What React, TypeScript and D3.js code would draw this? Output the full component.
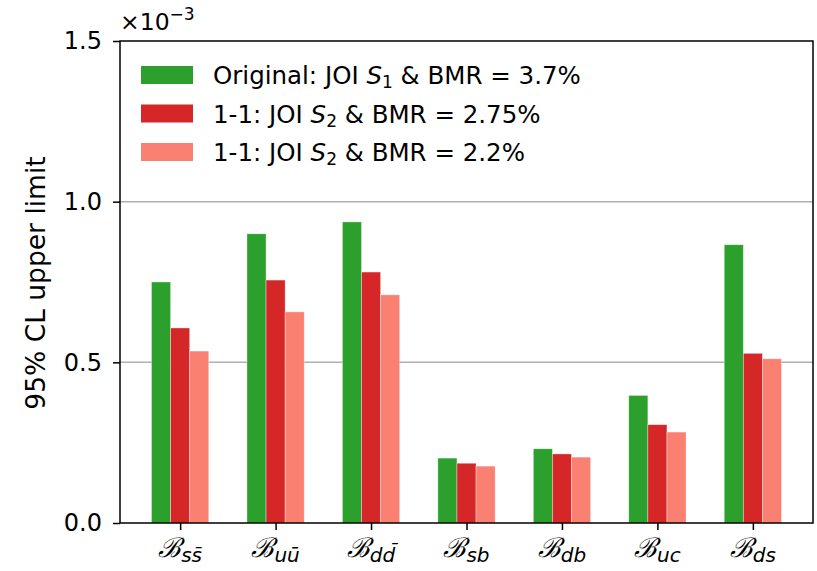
import * as d3 from 'd3'
import { useEffect, useRef } from 'react'

// subscripts of the B labels (bar marks drawn with a combining macron)
const categories = ['ss\u0304', 'uu\u0304', 'dd\u0304', 'sb', 'db', 'uc', 'ds']
const seriesNames = ['original', 'jois2_275', 'jois2_22']
const original = [0.75, 0.9, 0.937, 0.202, 0.231, 0.397, 0.866]
const jois2_275 = [0.607, 0.756, 0.781, 0.186, 0.215, 0.306, 0.528]
const jois2_22 = [0.535, 0.657, 0.71, 0.177, 0.205, 0.283, 0.511]
const yTicks = [0.0, 0.5, 1.0, 1.5]
const colors = ['#2ca02c', '#d62728', '#fa8072']

const App = () => {
    const svgRef = useRef(null)

    useEffect(() => {
        const w = 817
        const h = 571
        const m = { left: 120, right: 813, top: 41, bottom: 523 }
        const svg = d3.select(svgRef.current)
        svg.selectAll('*').remove()

        const x = d3.scaleLinear().domain([-0.63, 6.63]).range([m.left, m.right])
        const y = d3.scaleLinear().domain([0, 1.5]).range([m.bottom, m.top])
        const bw = x(0.2) - x(0)
        const font = 'DejaVu Sans'

        // grid lines
        svg.selectAll('.grid').data([0.5, 1.0]).join('line')
            .attr('x1', m.left).attr('x2', m.right)
            .attr('y1', d => y(d)).attr('y2', d => y(d))
            .attr('stroke', '#b0b0b0').attr('stroke-width', 1.5)

        // bars
        const series = [original, jois2_275, jois2_22]
        series.forEach((vals, si) => {
            svg.append('g').attr('class', seriesNames[si]).selectAll('rect').data(vals).join('rect')
                .attr('x', (d, i) => x(i + (si - 1) * 0.2) - bw / 2)
                .attr('width', bw)
                .attr('y', d => y(d))
                .attr('height', d => y(0) - y(d))
                .attr('fill', colors[si])
                .attr('stroke', 'rgba(255,255,255,0.5)').attr('stroke-width', 0.7)
        })

        // frame
        svg.append('rect').attr('x', m.left).attr('y', m.top)
            .attr('width', m.right - m.left).attr('height', m.bottom - m.top)
            .attr('fill', 'none').attr('stroke', '#000').attr('stroke-width', 1.5)

        // y axis
        const yAxis = d3.axisLeft(y).tickValues(yTicks).tickSize(7).tickPadding(11).tickFormat(d3.format('.1f'))
        const ga = svg.append('g').attr('transform', `translate(${m.left},0)`).call(yAxis)
        ga.select('.domain').remove()
        ga.selectAll('line').attr('stroke-width', 1.5)
        ga.selectAll('text').attr('font-family', font).attr('font-size', 24).attr('fill', '#000')

        // x axis
        const xAxis = d3.axisBottom(x).tickValues(d3.range(categories.length)).tickSize(7).tickFormat(() => '')
        const gx = svg.append('g').attr('transform', `translate(0,${m.bottom})`).call(xAxis)
        gx.select('.domain').remove()
        gx.selectAll('line').attr('stroke-width', 1.5)

        const lab = svg.selectAll('.xlab').data(categories).join('text')
            .attr('x', (d, i) => x(i)).attr('y', 557)
            .attr('text-anchor', 'middle').attr('font-family', font).attr('fill', '#000')
        lab.append('tspan').attr('font-size', 27).attr('font-family', 'DejaVu Serif').attr('font-style', 'italic').text('\u212C')
        lab.append('tspan').attr('font-size', 20).attr('font-style', 'italic').attr('dy', 5).text(d => d)

        // exponent
        svg.append('text').attr('x', 120).attr('y', 30).attr('font-family', font).attr('font-size', 23.5)
            .text('\u00D710').append('tspan').attr('dy', -10).attr('font-size', 17).text('\u22123')

        // y label
        svg.append('text').attr('transform', `translate(45,283) rotate(-90)`)
            .attr('text-anchor', 'middle').attr('font-family', font).attr('font-size', 26.5)
            .text('95% CL upper limit')

        // legend
        const legend = [
            ['Original: JOI ', '1', ' & BMR = 3.7%'],
            ['1-1: JOI ', '2', ' & BMR = 2.75%'],
            ['1-1: JOI ', '2', ' & BMR = 2.2%']
        ]
        const lg = svg.selectAll('.leg').data(legend).join('g')
            .attr('transform', (d, i) => `translate(141,${75 + i * 38.5})`)
        lg.append('rect').attr('x', 0).attr('y', -9).attr('width', 52).attr('height', 18)
            .attr('fill', (d, i) => colors[i])
        const lt = lg.append('text').attr('x', 72).attr('y', 9).attr('font-family', font).attr('font-size', 24.5)
        lt.append('tspan').text(d => d[0])
        lt.append('tspan').attr('font-style', 'italic').text('S')
        lt.append('tspan').attr('font-size', 17).attr('dy', 4).text(d => d[1])
        lt.append('tspan').attr('dy', -4).text(d => d[2])

        svg.attr('width', w).attr('height', h)
    }, [])

    return (
        <svg ref={svgRef} style={{ position: 'absolute', left: 0, top: 0, background: '#fff' }}></svg>
    )
}

export default App
